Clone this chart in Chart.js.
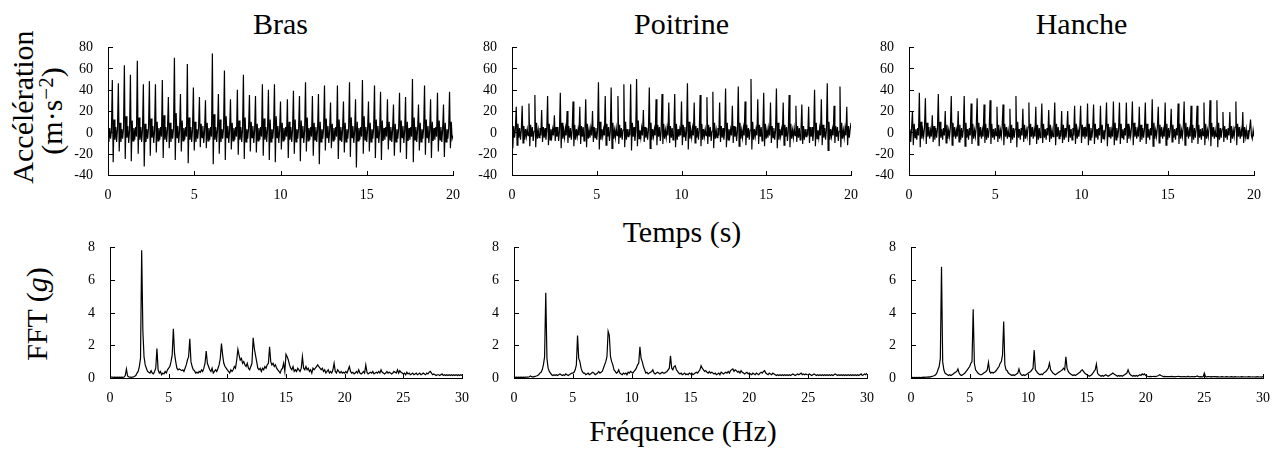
<!DOCTYPE html>
<html><head><meta charset="utf-8">
<script src="https://cdn.jsdelivr.net/npm/chart.js@4.4.1/dist/chart.umd.min.js"></script>
<style>
html,body{margin:0;padding:0;background:#fff;}
body{width:1279px;height:454px;position:relative;overflow:hidden;font-family:"Liberation Serif","Times New Roman",serif;color:#000;}
canvas{position:absolute;}
.lbl{position:absolute;font-size:30px;line-height:1;white-space:nowrap;transform:translate(-50%,-50%);}
.rot{transform:translate(-50%,-50%) rotate(-90deg);}
.sup{font-size:0.7em;position:relative;top:-0.45em;}
</style></head><body>
<script>
// ---------- data ----------
const panels = ['Bras', 'Poitrine', 'Hanche'];
const timeTicks = [0, 5, 10, 15, 20];
const accelTicks = [-40, -20, 0, 20, 40, 60, 80];
const freqTicks = [0, 5, 10, 15, 20, 25, 30];
const fftTicks = [0, 2, 4, 6, 8];
const timeStep = 0.05;   // s between samples
const freqStep = 0.1;    // Hz between samples

const bras = [
-3,-9,4,-6,2,
49,-28,12,-7,5,-9,3, 46,-18,9,-9,3,-6,4, 63,-25,15,-5,6,-10,2, 54,-27,11,-8,4,-7,5,-4,
67,-20,14,-7,5,-9,3, 45,-32,8,-9,3,-6,4, 48,-22,13,-5,6,-10,2, 45,-19,10,-8,4,-7,5,-4,
49,-24,16,-7,5,-9,3, 33,-15,9,-9,3,-6,4, 70,-26,18,-5,6,-10,2, 36,-18,11,-8,4,-7,5,-4,
64,-29,14,-7,5,-9,3, 42,-17,10,-9,3,-6,4, 33,-14,8,-5,6,-10,2, 30,-15,9,-8,4,-7,5,-4,
74,-30,17,-7,5,-9,3, 36,-20,12,-9,3,-6,4, 58,-26,15,-5,6,-10,2, 31,-16,9,-8,4,-7,5,-4,
40,-21,11,-7,5,-9,3, 54,-25,14,-9,3,-6,4, 35,-18,10,-5,6,-10,2, 34,-19,8,-8,4,-7,5,-4,
45,-22,13,-7,5,-9,3, 40,-26,12,-9,3,-6,4, 45,-28,15,-5,6,-10,2, 29,-16,9,-8,4,-7,5,-4,
31,-24,10,-7,5,-9,3, 39,-20,12,-9,3,-6,4, 34,-27,11,-5,6,-10,2, 47,-18,14,-8,4,-7,5,-4,
34,-22,9,-7,5,-9,3, 36,-30,10,-9,3,-6,4, 44,-17,13,-5,6,-10,2, 28,-15,8,-8,4,-7,5,-4,
44,-25,12,-7,5,-9,3, 29,-19,9,-9,3,-6,4, 47,-23,14,-5,6,-10,2, 31,-33,10,-8,4,-7,5,-4,
49,-20,15,-7,5,-9,3, 29,-18,9,-9,3,-6,4, 44,-24,12,-5,6,-10,2, 38,-26,11,-8,4,-7,5,-4,
31,-16,10,-7,5,-9,3, 26,-22,8,-9,3,-6,4, 37,-19,11,-5,6,-10,2, 33,-25,10,-8,4,-7,5,-4,
50,-28,14,-7,5,-9,3, 26,-17,9,-9,3,-6,4, 44,-21,12,-5,6,-10,2, 31,-24,10,-8,4,-7,5,-4,
37,-18,11,-7,5,-9,3, 26,-23,9,-9,3,-6,4,
38,-15,10,-6,-3
];

const poitrine = [
-4,-15,6,-5,3,
24,-12,8,-5,4,-7,2, 25,-10,6,-7,3,-4,3,-3, 27,-13,7,-4,5,-8,1, 35,-14,9,-6,2,-5,4,-3,
21,-9,5,-5,4,-7,2, 34,-12,8,-7,3,-4,3,-3, 16,-8,5,-4,5,-8,1, 37,-15,9,-6,2,-5,4,-3,
20,-10,6,-5,4,-7,2, 29,-13,7,-7,3,-4,3,-3, 24,-11,6,-4,5,-8,1, 31,-14,8,-6,2,-5,4,-3,
20,-9,5,-5,4,-7,2, 47,-16,10,-7,3,-4,3,-3, 34,-12,8,-4,5,-8,1, 42,-15,9,-6,2,-5,4,-3,
34,-11,7,-5,4,-7,2, 45,-14,10,-7,3,-4,3,-3, 45,-17,9,-4,5,-8,1, 50,-13,11,-6,2,-5,4,-3,
21,-9,5,-5,4,-7,2, 42,-15,9,-7,3,-4,3,-3, 31,-12,7,-4,5,-8,1, 36,-11,8,-6,2,-5,4,-3,
28,-10,6,-5,4,-7,2, 36,-14,8,-7,3,-4,3,-3, 29,-12,7,-4,5,-8,1, 46,-16,10,-6,2,-5,4,-3,
28,-10,6,-5,4,-7,2, 35,-13,8,-7,3,-4,3,-3, 33,-11,7,-4,5,-8,1, 38,-15,9,-6,2,-5,4,-3,
28,-9,6,-5,4,-7,2, 41,-14,9,-7,3,-4,3,-3, 25,-10,6,-4,5,-8,1, 43,-13,9,-6,2,-5,4,-3,
29,-12,7,-5,4,-7,2, 50,-16,10,-7,3,-4,3,-3, 31,-11,7,-4,5,-8,1, 37,-13,8,-6,2,-5,4,-3,
28,-10,6,-5,4,-7,2, 41,-15,9,-7,3,-4,3,-3, 28,-12,7,-4,5,-8,1, 35,-14,8,-6,2,-5,4,-3,
25,-9,6,-5,4,-7,2, 26,-11,6,-7,3,-4,3,-3, 24,-10,5,-4,5,-8,1, 40,-13,9,-6,2,-5,4,-3,
31,-12,7,-5,4,-7,2, 46,-17,10,-7,3,-4,3,-3, 25,-10,6,-4,5,-8,1, 43,-14,9,-6,2,-5,4,-3,
24,-12,6,-5,3,9
];

const hanche = [
-6,3,-9,4,
20,-12,8,-5,3,-7,4,-3, 37,-14,10,-6,2,-4,5, 32,-11,9,-4,5,-6,2,-4, 16,-9,6,-7,4,-5,3,
36,-13,10,-5,3,-7,4,-3, 20,-10,7,-6,2,-4,5, 34,-12,9,-4,5,-6,2,-4, 20,-9,7,-7,4,-5,3,
34,-13,9,-5,3,-7,4,-3, 27,-11,8,-6,2,-4,5, 32,-12,9,-4,5,-6,2,-4, 26,-10,8,-7,4,-5,3,
30,-11,8,-5,3,-7,4,-3, 24,-9,7,-6,2,-4,5, 26,-12,8,-4,5,-6,2,-4, 22,-10,7,-7,4,-5,3,
34,-14,10,-5,3,-7,4,-3, 22,-9,7,-6,2,-4,5, 28,-12,8,-4,5,-6,2,-4, 24,-11,7,-7,4,-5,3,
27,-10,8,-5,3,-7,4,-3, 21,-9,7,-6,2,-4,5, 28,-12,8,-4,5,-6,2,-4, 20,-10,7,-7,4,-5,3,
20,-9,7,-5,3,-7,4,-3, 25,-11,8,-6,2,-4,5, 25,-10,7,-4,5,-6,2,-4, 27,-12,8,-7,4,-5,3,
26,-11,8,-5,3,-7,4,-3, 25,-10,7,-6,2,-4,5, 28,-13,8,-4,5,-6,2,-4, 29,-12,9,-7,4,-5,3,
28,-11,8,-5,3,-7,4,-3, 28,-10,8,-6,2,-4,5, 29,-12,9,-4,5,-6,2,-4, 24,-9,7,-7,4,-5,3,
28,-11,8,-5,3,-7,4,-3, 31,-13,9,-6,2,-4,5, 24,-10,7,-4,5,-6,2,-4, 28,-12,8,-7,4,-5,3,
22,-9,7,-5,3,-7,4,-3, 27,-11,8,-6,2,-4,5, 29,-12,9,-4,5,-6,2,-4, 25,-10,7,-7,4,-5,3,
25,-11,7,-5,3,-7,4,-3, 28,-12,8,-6,2,-4,5, 30,-13,9,-4,5,-6,2,-4, 30,-14,9,-7,4,-5,3,
19,-9,6,-5,3,-7,4,-3, 19,-10,6,-6,2,-4,5, 29,-12,8,-4,5,-6,2,-4,
19,-10,5,-4,3,-6,2,-3,4,12,-3,-6,2,-4
];

const brasFFT = [
0.1,0.06,0.05,0.04,0.05,0.04,0.05,0.04,0.05,0.04,
0.05,0.04,0.06,0.15,0.55,0.12,0.06,0.05,0.04,0.05,
0.06,0.1,0.15,0.3,0.4,0.7,1.2,7.8,2.9,1.3,
0.8,0.6,0.4,0.35,0.3,0.45,0.3,0.25,0.4,0.6,
1.8,0.5,0.3,0.4,0.2,0.3,0.25,0.4,0.3,0.5,
0.6,0.7,1.0,1.4,3.0,1.5,1.0,0.6,0.5,0.55,
0.5,0.45,0.5,0.4,0.6,0.8,1.1,1.3,2.4,1.0,
0.7,0.5,0.45,0.3,0.35,0.3,0.4,0.35,0.5,0.4,
0.6,0.9,1.65,0.9,0.7,0.5,0.4,0.6,0.3,0.4,
0.5,0.4,0.6,0.8,1.2,2.1,1.4,0.9,0.7,0.6,
0.5,0.4,0.3,0.5,0.4,0.5,0.7,0.6,1.1,1.75,
1.4,1.1,1.2,0.9,1.0,0.8,0.7,0.9,0.6,0.5,
0.7,0.9,2.45,1.8,1.4,1.0,0.6,0.5,0.6,0.4,
0.6,0.5,0.7,0.6,0.8,0.9,1.9,1.0,0.8,0.9,
0.7,0.8,0.6,0.5,0.4,0.3,0.5,0.6,0.9,0.4,
1.45,1.3,1.1,0.8,0.6,0.5,0.7,0.4,0.5,0.4,
0.6,0.5,0.4,0.6,1.3,0.6,0.5,0.7,0.5,0.6,
0.4,0.5,0.3,0.6,0.5,0.6,0.7,0.8,0.7,0.6,
0.5,0.6,0.4,0.5,0.3,0.4,0.5,0.3,0.4,0.3,
0.5,0.9,0.4,0.3,0.5,0.4,0.3,0.4,0.3,0.35,
0.3,0.4,0.3,0.5,0.7,0.4,0.3,0.35,0.25,0.3,
0.4,0.3,0.5,0.3,0.25,0.3,0.4,0.3,0.8,0.35,
0.25,0.3,0.35,0.3,0.4,0.25,0.3,0.35,0.3,0.4,
0.3,0.5,0.35,0.3,0.25,0.3,0.4,0.3,0.35,0.3,
0.25,0.3,0.4,0.35,0.3,0.5,0.3,0.45,0.35,0.3,
0.25,0.3,0.2,0.35,0.25,0.3,0.2,0.25,0.3,0.2,
0.25,0.3,0.2,0.25,0.3,0.2,0.25,0.3,0.25,0.2,
0.3,0.25,0.35,0.4,0.3,0.2,0.25,0.2,0.15,0.2,
0.2,0.15,0.2,0.25,0.15,0.2,0.15,0.2,0.15,0.2,
0.15,0.2,0.15,0.2,0.15,0.2,0.15,0.2,0.15,0.2,0.15
];

const poitrineFFT = [
0.05,0.04,0.05,0.04,0.05,0.04,0.05,0.04,0.05,0.04,
0.05,0.06,0.05,0.08,0.12,0.08,0.06,0.08,0.1,0.12,
0.15,0.2,0.3,0.35,0.5,0.8,1.3,5.2,1.2,0.6,
0.4,0.3,0.2,0.15,0.2,0.15,0.2,0.15,0.2,0.25,
0.2,0.15,0.2,0.15,0.25,0.2,0.15,0.2,0.25,0.3,
0.3,0.35,0.5,0.8,2.6,1.2,1.0,0.6,0.4,0.3,
0.3,0.2,0.25,0.3,0.2,0.25,0.3,0.35,0.3,0.2,
0.25,0.3,0.4,0.3,0.35,0.4,0.6,0.8,1.0,1.3,
2.85,2.6,1.3,1.0,0.8,0.5,0.4,0.3,0.35,0.5,
0.3,0.25,0.2,0.3,0.25,0.3,0.2,0.35,0.3,0.4,
0.35,0.3,0.4,0.5,0.6,0.8,0.9,1.9,1.2,1.0,
0.7,0.5,0.3,0.35,0.25,0.3,0.35,0.4,0.5,0.3,
0.25,0.3,0.35,0.3,0.25,0.3,0.35,0.3,0.3,0.35,
0.4,0.5,0.6,1.35,0.6,0.5,0.7,0.75,0.5,0.4,
0.3,0.25,0.3,0.2,0.25,0.3,0.2,0.25,0.2,0.3,
0.25,0.3,0.2,0.25,0.3,0.35,0.3,0.4,0.5,0.75,
0.6,0.5,0.4,0.45,0.35,0.3,0.4,0.3,0.35,0.3,
0.25,0.3,0.2,0.25,0.3,0.2,0.35,0.3,0.25,0.3,
0.35,0.3,0.4,0.3,0.45,0.5,0.55,0.4,0.5,0.45,
0.35,0.4,0.3,0.45,0.35,0.3,0.25,0.3,0.35,0.25,
0.3,0.25,0.2,0.3,0.25,0.2,0.3,0.25,0.2,0.3,
0.35,0.3,0.4,0.45,0.3,0.25,0.2,0.3,0.25,0.2,
0.3,0.25,0.2,0.15,0.2,0.15,0.2,0.15,0.2,0.15,
0.2,0.15,0.2,0.15,0.2,0.15,0.2,0.25,0.2,0.15,
0.2,0.25,0.2,0.25,0.3,0.2,0.25,0.2,0.25,0.2,
0.2,0.25,0.2,0.15,0.2,0.25,0.2,0.15,0.2,0.15,
0.2,0.15,0.2,0.15,0.2,0.15,0.2,0.15,0.2,0.15,
0.2,0.15,0.2,0.25,0.2,0.15,0.2,0.15,0.2,0.15,
0.2,0.15,0.2,0.15,0.2,0.15,0.2,0.15,0.2,0.15,
0.2,0.15,0.2,0.15,0.2,0.25,0.15,0.2,0.25,0.2,0.3
];

const hancheFFT = [
0.05,0.04,0.03,0.04,0.03,0.04,0.03,0.04,0.03,0.04,
0.04,0.05,0.04,0.06,0.05,0.07,0.06,0.08,0.1,0.12,
0.15,0.2,0.3,0.5,0.7,1.2,6.8,1.0,0.5,0.3,
0.25,0.2,0.15,0.2,0.15,0.2,0.25,0.3,0.35,0.4,
0.55,0.3,0.2,0.15,0.2,0.25,0.3,0.4,0.5,0.6,
0.7,0.9,1.0,4.2,0.9,0.5,0.4,0.3,0.25,0.2,
0.2,0.25,0.3,0.35,0.4,0.5,0.95,0.4,0.3,0.35,
0.3,0.35,0.4,0.5,0.6,0.7,0.9,1.0,1.4,3.45,
0.8,0.5,0.45,0.3,0.25,0.2,0.15,0.2,0.15,0.2,
0.25,0.3,0.55,0.3,0.2,0.15,0.2,0.15,0.2,0.25,
0.3,0.35,0.4,0.5,0.6,1.7,0.5,0.4,0.3,0.25,
0.2,0.25,0.2,0.3,0.35,0.4,0.5,0.6,0.9,0.5,
0.4,0.3,0.25,0.2,0.25,0.3,0.35,0.4,0.45,0.5,
0.6,0.5,1.3,0.6,0.4,0.3,0.25,0.2,0.15,0.2,
0.15,0.2,0.25,0.3,0.35,0.45,0.5,0.4,0.3,0.25,
0.2,0.15,0.1,0.15,0.2,0.3,0.4,0.5,0.85,0.3,
0.2,0.15,0.1,0.15,0.1,0.15,0.2,0.15,0.1,0.15,
0.2,0.25,0.3,0.25,0.2,0.15,0.1,0.15,0.1,0.15,
0.1,0.15,0.2,0.25,0.3,0.5,0.3,0.2,0.15,0.1,
0.15,0.1,0.15,0.1,0.15,0.2,0.15,0.25,0.2,0.25,
0.15,0.12,0.1,0.09,0.1,0.08,0.09,0.1,0.08,0.1,
0.12,0.15,0.2,0.15,0.12,0.09,0.1,0.08,0.09,0.08,
0.09,0.08,0.1,0.08,0.09,0.07,0.08,0.09,0.1,0.08,
0.08,0.07,0.09,0.08,0.07,0.08,0.1,0.08,0.07,0.09,
0.08,0.07,0.08,0.09,0.12,0.08,0.07,0.08,0.07,0.08,
0.3,0.08,0.07,0.08,0.09,0.07,0.08,0.07,0.09,0.08,
0.07,0.08,0.07,0.06,0.07,0.08,0.07,0.06,0.07,0.08,
0.07,0.06,0.07,0.08,0.07,0.06,0.08,0.07,0.06,0.07,
0.06,0.07,0.08,0.07,0.06,0.07,0.06,0.07,0.08,0.07,
0.06,0.07,0.06,0.07,0.06,0.08,0.07,0.06,0.07,0.06,0.08
];

// ---------- layout (chart-area boxes in page px) ----------
const PAD = {l: 50, r: 14, t: 10, b: 30};
const layout = [
  {id:'c1', vals: bras,        step: timeStep, xt: timeTicks, yt: accelTicks, area:[108,453,47,175]},
  {id:'c2', vals: poitrine,    step: timeStep, xt: timeTicks, yt: accelTicks, area:[512,851,47,175]},
  {id:'c3', vals: hanche,      step: timeStep, xt: timeTicks, yt: accelTicks, area:[909,1254,47,175]},
  {id:'c4', vals: brasFFT,     step: freqStep, xt: freqTicks, yt: fftTicks,   area:[110,462,247,378]},
  {id:'c5', vals: poitrineFFT, step: freqStep, xt: freqTicks, yt: fftTicks,   area:[514,867,247,378]},
  {id:'c6', vals: hancheFFT,   step: freqStep, xt: freqTicks, yt: fftTicks,   area:[911,1263,247,378]}
];

const TICK_FONT = "14px 'Liberation Serif', 'Times New Roman', serif";

// inward tick marks + serif tick labels, placed from the chart's own scales
const axisMarks = {
  id: 'axisMarks',
  afterDraw(chart) {
    const {ctx, chartArea: a, scales: {x, y}} = chart;
    ctx.save();
    ctx.strokeStyle = '#000';
    ctx.lineWidth = 1;
    ctx.beginPath();
    x.ticks.forEach(t => {
      const px = Math.round(x.getPixelForValue(t.value)) + 0.5;
      ctx.moveTo(px, a.bottom); ctx.lineTo(px, a.bottom - 4);
    });
    y.ticks.forEach(t => {
      const py = Math.round(y.getPixelForValue(t.value)) + 0.5;
      ctx.moveTo(a.left, py); ctx.lineTo(a.left + 5, py);
    });
    ctx.stroke();
    ctx.font = TICK_FONT;
    ctx.fillStyle = '#000';
    ctx.textAlign = 'center';
    ctx.textBaseline = 'middle';
    x.ticks.forEach(t => {
      ctx.fillText(String(t.value), x.getPixelForValue(t.value), a.bottom + 20);
    });
    ctx.textAlign = 'right';
    y.ticks.forEach(t => {
      ctx.fillText(String(t.value), a.left - 15, y.getPixelForValue(t.value) + 0.5);
    });
    ctx.restore();
  }
};

function axis(ticksArr, isX) {
  return {
    type: 'linear',
    min: ticksArr[0],
    max: ticksArr[ticksArr.length - 1],
    afterBuildTicks: s => { s.ticks = ticksArr.map(v => ({value: v})); },
    afterFit: s => { if (isX) s.height = PAD.b; else s.width = PAD.l; },
    grid: {display: false, drawTicks: false},
    border: {display: true, color: '#000', width: 1},
    ticks: {display: false}
  };
}

// ---------- text ----------
function addText(html, x, y, rot) {
  const d = document.createElement('div');
  d.className = 'lbl' + (rot ? ' rot' : '');
  d.innerHTML = html;
  d.style.left = x + 'px';
  d.style.top = y + 'px';
  document.body.appendChild(d);
}
panels.forEach((name, i) => {
  const [l, r] = layout[i].area;
  addText(name, (l + r) / 2, 23.5, false);
});
addText('Temps (s)', 682, 232, false);
addText('Fréquence (Hz)', 683, 431, false);
addText('Accélération', 23, 107, true);
addText('(m·s<span class="sup">−2</span>)', 51.5, 111, true);
addText('FFT (<i>g</i>)', 37, 314, true);

layout.forEach(p => {
  const [l, r, t, b] = p.area;
  const cv = document.createElement('canvas');
  cv.id = p.id;
  const w = r - l + PAD.l + PAD.r, h = b - t + PAD.t + PAD.b;
  cv.width = w; cv.height = h;
  cv.style.width = w + 'px'; cv.style.height = h + 'px';
  cv.style.left = (l - PAD.l) + 'px';
  cv.style.top = (t - PAD.t) + 'px';
  document.body.appendChild(cv);
  new Chart(cv, {
    type: 'line',
    data: {datasets: [{
      data: p.vals.map((v, i) => ({x: +(i * p.step).toFixed(3), y: v})),
      borderColor: '#000', borderWidth: 1.2, pointRadius: 0, tension: 0, fill: false
    }]},
    options: {
      responsive: false, animation: false, events: [],
      layout: {padding: {left: 0, right: PAD.r, top: PAD.t, bottom: 0}},
      plugins: {legend: {display: false}, tooltip: {enabled: false}},
      scales: {x: axis(p.xt, true), y: axis(p.yt, false)}
    },
    plugins: [axisMarks]
  });
});
</script>
</body></html>
